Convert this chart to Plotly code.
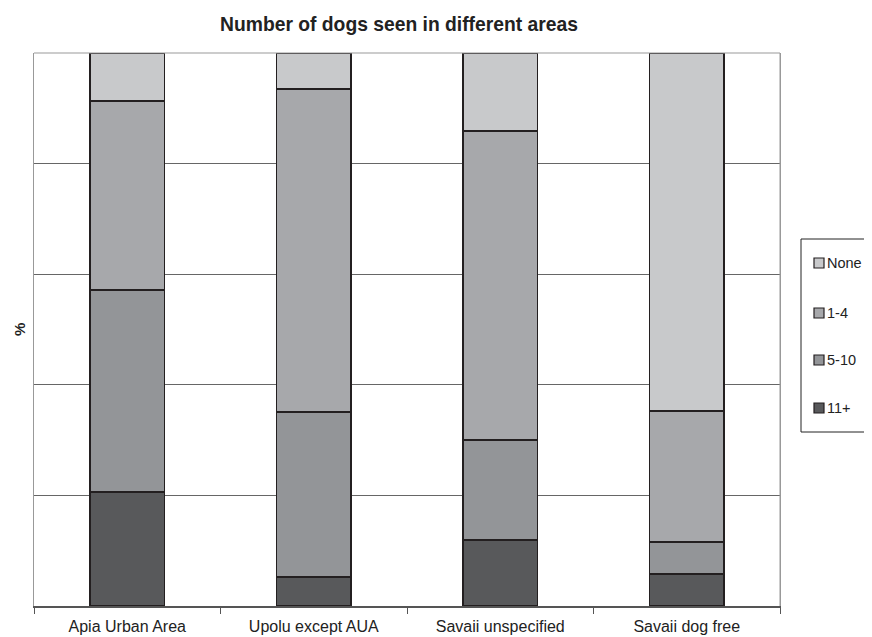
import plotly.graph_objects as go

categories = ["Apia Urban Area", "Upolu except AUA", "Savaii unspecified", "Savaii dog free"]
series_names = ["11+", "5-10", "1-4", "None"]
v_11plus = [20.6, 5.2, 11.9, 5.8]
v_5_10 = [36.5, 29.9, 18.1, 5.8]
v_1_4 = [34.2, 58.4, 55.9, 23.7]
v_none = [8.7, 6.5, 14.1, 64.7]
colors = ["#58595b", "#939598", "#a7a8ab", "#c8c9cb"]

# page is offset by 8px body margin; keep page within the window
W, H = 864, 629
OFF = 8
L, R, T, B = 26, 92, 45, 31
PW = W - L - R
PH = H - T - B


def px(sx):
    return (sx - OFF - L) / PW


def py(sy):
    return (H - B - (sy - OFF)) / PH


fig = go.Figure()
for name, vals, col in zip(series_names, [v_11plus, v_5_10, v_1_4, v_none], colors):
    fig.add_trace(go.Bar(
        x=categories, y=vals, name=name, showlegend=False,
        marker=dict(color=col, line=dict(color="#231f20", width=1.5)),
        width=0.4,
    ))

fig.update_layout(
    barmode="stack",
    width=W, height=H,
    margin=dict(l=L, r=R, t=T, b=B, autoexpand=False),
    paper_bgcolor="white", plot_bgcolor="white",
    font=dict(family="Liberation Sans, Arial, sans-serif", color="#222"),
    title=dict(text="<b>Number of dogs seen in different areas</b>",
               x=(399 - OFF) / W, xanchor="center", y=1 - (24 - OFF) / H, yanchor="middle",
               font=dict(size=19.3, color="#222")),
    showlegend=False,
)
fig.update_xaxes(
    type="category", tickson="boundaries", ticks="outside", ticklen=6,
    tickcolor="#555", showline=True, linecolor="#555", linewidth=1.5,
    showgrid=False, tickfont=dict(size=16, color="#222"),
    ticklabelstandoff=5, automargin=False,
)
fig.update_yaxes(
    range=[0, 100], dtick=20, showticklabels=False, ticks="",
    showgrid=True, gridcolor="#666", gridwidth=1,
    showline=True, linecolor="#999", linewidth=1, mirror=True,
    zeroline=False, automargin=False,
)
# y-axis title
fig.add_annotation(text="<b>%</b>", xref="paper", yref="paper", x=px(19), y=py(330),
                   xanchor="center", yanchor="middle",
                   showarrow=False, textangle=-90, font=dict(size=15, color="#222"))
fig.add_shape(type="line", xref="paper", yref="paper", x0=0, x1=1, y0=1, y1=1,
              line=dict(color="#999", width=1))
fig.add_shape(type="line", xref="paper", yref="paper", x0=1, x1=1, y0=0, y1=1,
              line=dict(color="#999", width=1))

# custom legend
fig.add_shape(type="rect", xref="paper", yref="paper",
              x0=px(801), x1=px(885), y0=py(432), y1=py(239),
              line=dict(color="#222", width=1), fillcolor="white")
legend_y = {"None": 263, "1-4": 313, "5-10": 360, "11+": 408}
for name, col in zip(series_names, colors):
    cy = legend_y[name]
    fig.add_shape(type="rect", xref="paper", yref="paper",
                  x0=px(814), x1=px(824), y0=py(cy + 5), y1=py(cy - 5),
                  line=dict(color="#231f20", width=1.2), fillcolor=col)
    fig.add_annotation(text=name, xref="paper", yref="paper", x=px(825), y=py(cy),
                       xanchor="left", yanchor="middle", showarrow=False,
                       font=dict(size=14.5, color="#222"))

fig.write_html("out.html")
